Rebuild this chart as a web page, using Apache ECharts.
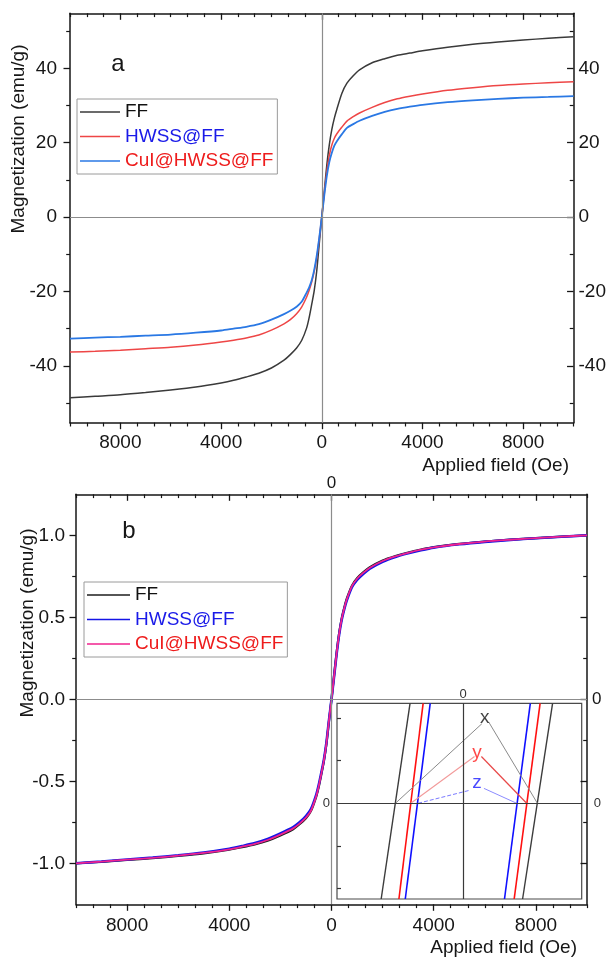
<!DOCTYPE html>
<html>
<head>
<meta charset="utf-8">
<script src="https://cdn.jsdelivr.net/npm/echarts@6/dist/echarts.min.js"></script>
<style>
  html, body { margin: 0; padding: 0; background: #fff; }
  #chart { width: 609px; height: 957px; }
</style>
</head>
<body>
<div id="chart"></div>
<script>
// Applied field (Oe), shared by every curve
const fieldOe = [-10000,-9000,-8000,-7000,-6000,-5000,-4000,-3500,-3000,-2500,-2000,-1500,-1250,-1000,-800,-600,-500,-400,-300,-200,-100,
  0,
  100,200,300,400,500,600,800,1000,1250,1500,2000,2500,3000,3500,4000,5000,6000,7000,8000,9000,10000];

// (a) magnetization, emu/g
const ffA = [-48.6,-48.2,-47.8,-47.2,-46.5,-45.7,-44.6,-43.9,-43.0,-42.0,-40.6,-38.5,-37.0,-35.2,-33.2,-29.8,-27.0,-23.5,-19.8,-14.5,-7.2,
  0,
  7.0,14.0,19.5,23.6,26.6,29.0,33.3,36.0,38.0,39.6,41.5,42.6,43.5,44.1,44.7,45.7,46.5,47.1,47.6,48.1,48.5];
const hwssA = [-36.3,-36.1,-35.8,-35.4,-35.0,-34.4,-33.6,-33.1,-32.5,-31.7,-30.4,-28.7,-27.6,-26.0,-24.2,-21.5,-19.7,-17.5,-14.6,-11.0,-5.8,
  0,
  6.3,12.2,16.6,19.4,21.2,22.4,24.2,25.8,27.0,28.0,29.5,30.8,31.8,32.5,33.1,34.1,34.8,35.4,35.8,36.1,36.4];
const cuiA = [-32.7,-32.4,-32.2,-31.9,-31.6,-31.1,-30.5,-30.0,-29.5,-28.8,-27.6,-26.1,-25.2,-24.1,-22.8,-20.3,-18.9,-17.0,-14.2,-10.4,-5.5,
  0,
  5.8,11.0,14.8,17.3,19.2,20.4,22.3,24.0,25.0,25.9,27.2,28.3,29.1,29.7,30.2,30.9,31.4,31.8,32.1,32.3,32.5];

// (b) normalized magnetization
const ffB = [-1.0,-0.991,-0.98,-0.969,-0.955,-0.939,-0.917,-0.902,-0.885,-0.862,-0.83,-0.792,-0.762,-0.725,-0.68,-0.595,-0.535,-0.46,-0.38,-0.275,-0.135,
  0,
  0.145,0.285,0.405,0.495,0.56,0.615,0.693,0.738,0.775,0.805,0.846,0.873,0.895,0.913,0.928,0.948,0.962,0.974,0.983,0.992,1.0];
const hwssB = [-1.0,-0.989,-0.977,-0.965,-0.951,-0.934,-0.911,-0.895,-0.877,-0.852,-0.818,-0.779,-0.75,-0.712,-0.668,-0.583,-0.522,-0.448,-0.37,-0.265,-0.128,
  0,
  0.137,0.275,0.395,0.485,0.55,0.603,0.683,0.728,0.766,0.797,0.839,0.868,0.89,0.909,0.925,0.945,0.96,0.972,0.982,0.991,1.0];
const cuiB = [-1.0,-0.99,-0.978,-0.967,-0.953,-0.937,-0.915,-0.899,-0.882,-0.858,-0.825,-0.787,-0.758,-0.722,-0.678,-0.592,-0.53,-0.455,-0.375,-0.27,-0.13,
  0,
  0.14,0.28,0.40,0.49,0.555,0.61,0.69,0.735,0.772,0.802,0.843,0.871,0.893,0.912,0.927,0.947,0.962,0.973,0.983,0.992,1.0];

// inset: branches near the origin (field in Oe, normalized M)
const insetMEnds = [-0.0225, 0.0235];
const blackDescField = [-66.9, -43.3];
const blackAscField = [48.7, 73.2];
const redDescField = [-52.4, -32.6];
const redAscField = [41.8, 63.0];
const blueDescField = [-47.2, -26.8];
const blueAscField = [33.9, 55.0];

// inset: leader lines from each coercive point to its letter
const leaderBlackField = [-55.2, 15.4, 21.0, 60.8];
const leaderBlackM = [0, 0.0187, 0.0191, 0];
const leaderRedField = [-42.7, 9.4, 15.0, 52.0];
const leaderRedM = [0, 0.0110, 0.0110, 0];
const leaderBlueField = [-36.7, 6.1, 17.1, 43.8];
const leaderBlueM = [0, 0.0031, 0.0035, 0];
const insetLetters = ['x', 'y', 'z'];
const insetLetterField = [17.7, 11.4, 11.4];
const insetLetterM = [0.0202, 0.0119, 0.0049];

// tick values
const fieldMajor = [-8000, -4000, 0, 4000, 8000];
const fieldMinor = [];
for (let k = -15; k <= 15; k++) if (k % 6 !== 0) fieldMinor.push(k * 4000 / 6);
const magMajorA = [-40, -20, 0, 20, 40];
const magMinorA = [-50, -30, -10, 10, 30, 50];
const magMajorB = [-1, -0.5, 0, 0.5, 1];
const magMinorB = [-0.75, -0.25, 0.25, 0.75];
const insetMinor = [-0.02, -0.01, 0.01, 0.02];

const FONT = 'Liberation Sans, Arial, sans-serif';
const INK = '#161616';

const xAxes = [], yAxes = [];

function addAxisPair(list, gridIndex, position, min, max, major, minor, o) {
  o = o || {};
  const majorIdx = list.length;
  list.push({
    type: 'value', gridIndex, position, min, max,
    axisLine: { show: o.line !== false, onZero: false, lineStyle: { color: INK, width: 1.5 } },
    axisTick: { show: major.length > 0, inside: !!o.inside, length: 6.5, customValues: major,
      lineStyle: { color: INK, width: 1.3 } },
    axisLabel: { show: !!o.labels, customValues: o.labels || [], margin: o.margin || 8,
      formatter: o.formatter, fontSize: o.fontSize || 19, color: o.labelColor || INK, fontFamily: FONT },
    splitLine: { show: false }
  });
  if (minor && minor.length) {
    list.push({
      type: 'value', gridIndex, position, min, max,
      axisLine: { show: false, onZero: false },
      axisTick: { show: true, inside: !!o.inside, length: o.minorLen || 3.8, customValues: minor,
        lineStyle: { color: o.minorColor || INK, width: 1.2 } },
      axisLabel: { show: false },
      splitLine: { show: false }
    });
  }
  return majorIdx;
}

const absLabel = v => String(Math.abs(v));

// panel (a)
const xa = addAxisPair(xAxes, 0, 'bottom', -10000, 10000, fieldMajor, fieldMinor,
  { labels: fieldMajor, formatter: absLabel, margin: 11 });
addAxisPair(xAxes, 0, 'top', -10000, 10000, fieldMajor, fieldMinor, { inside: true });
const ya = addAxisPair(yAxes, 0, 'left', -55.3, 54.8, magMajorA, magMinorA,
  { labels: magMajorA, margin: 13 });
addAxisPair(yAxes, 0, 'right', -55.3, 54.8, magMajorA, magMinorA,
  { inside: true, labels: magMajorA, margin: 5 });

// panel (b)
const xb = addAxisPair(xAxes, 1, 'bottom', -10000, 10000, fieldMajor, fieldMinor,
  { labels: fieldMajor, formatter: absLabel, margin: 12 });
addAxisPair(xAxes, 1, 'top', -10000, 10000, fieldMajor, fieldMinor,
  { inside: true, labels: [0], margin: 2, fontSize: 17 });
const yb = addAxisPair(yAxes, 1, 'left', -1.25, 1.25, magMajorB, magMinorB,
  { labels: magMajorB, margin: 11, formatter: v => v.toFixed(1) });
addAxisPair(yAxes, 1, 'right', -1.25, 1.25, magMajorB, magMinorB,
  { inside: true, labels: [0], margin: 5, fontSize: 17 });

// inset
const xi = addAxisPair(xAxes, 2, 'top', -103, 97, [], null,
  { line: false, labels: [0], margin: 2, fontSize: 13, labelColor: '#333' });
const yi = addAxisPair(yAxes, 2, 'left', insetMEnds[0], insetMEnds[1], [], insetMinor,
  { line: false, inside: true, labels: [0], margin: 7, fontSize: 13, labelColor: '#333', minorLen: 4, minorColor: '#333' });
addAxisPair(yAxes, 2, 'right', insetMEnds[0], insetMEnds[1], [], null,
  { line: false, labels: [0], margin: 12, fontSize: 13, labelColor: '#333' });

const pairs = (xs, ys) => xs.map((x, i) => [x, ys[i]]);

function curve(name, xIdx, yIdx, values, color, width, extra) {
  return Object.assign({
    type: 'line', name, xAxisIndex: xIdx, yAxisIndex: yIdx,
    data: pairs(fieldOe, values), symbol: 'none', smooth: 0.25,
    lineStyle: { color, width }, itemStyle: { color }, silent: true
  }, extra || {});
}

function zeroLines(color, width) {
  return {
    silent: true, symbol: 'none', animation: false,
    label: { show: false },
    lineStyle: { color, width, type: 'solid' },
    data: [{ xAxis: 0 }, { yAxis: 0 }]
  };
}

function segment(xIdx, yIdx, xs, ys, color, width, type) {
  return {
    type: 'line', xAxisIndex: xIdx, yAxisIndex: yIdx, data: pairs(xs, ys),
    symbol: 'none', silent: true, z: 4, lineStyle: { color, width, type: type || 'solid' }
  };
}

const letterColors = ['#111111', '#ff1a1a', '#1a1aff'];

const series = [
  curve('FF', xa, ya, ffA, '#3a3a3a', 1.5, { markLine: zeroLines('#8c8c8c', 1.2) }),
  curve('HWSS@FF', xa, ya, hwssA, '#ee4646', 1.5),
  curve('CuI@HWSS@FF', xa, ya, cuiA, '#2a78e4', 1.8),

  curve('FF (b)', xb, yb, ffB, '#1e1e1e', 2.2, { markLine: zeroLines('#8c8c8c', 1.2) }),
  curve('HWSS@FF (b)', xb, yb, hwssB, '#1414e6', 2.6),
  curve('CuI@HWSS@FF (b)', xb, yb, cuiB, '#f0228e', 1.8),

  Object.assign(segment(xi, yi, blackDescField, insetMEnds, '#3c3c3c', 1.4),
    { markLine: zeroLines('#3a3a3a', 1.2) }),
  segment(xi, yi, blackAscField, insetMEnds, '#3c3c3c', 1.4),
  segment(xi, yi, redDescField, insetMEnds, '#ff1010', 1.6),
  segment(xi, yi, redAscField, insetMEnds, '#ff1010', 1.6),
  segment(xi, yi, blueDescField, insetMEnds, '#1010ff', 1.6),
  segment(xi, yi, blueAscField, insetMEnds, '#1010ff', 1.6),

  segment(xi, yi, leaderBlackField.slice(0, 2), leaderBlackM.slice(0, 2), '#8a8a8a', 1),
  segment(xi, yi, leaderBlackField.slice(2), leaderBlackM.slice(2), '#8a8a8a', 1),
  segment(xi, yi, leaderRedField.slice(0, 2), leaderRedM.slice(0, 2), '#f29a9a', 1.1),
  segment(xi, yi, leaderRedField.slice(2), leaderRedM.slice(2), '#e84848', 1.2),
  segment(xi, yi, leaderBlueField.slice(0, 2), leaderBlueM.slice(0, 2), '#7a7aff', 1, 'dashed'),
  segment(xi, yi, leaderBlueField.slice(2), leaderBlueM.slice(2), '#8c8cff', 1),

  {
    type: 'scatter', xAxisIndex: xi, yAxisIndex: yi, symbol: 'circle', symbolSize: 2, silent: true, z: 5,
    itemStyle: { color: 'rgba(0,0,0,0)' },
    data: insetLetters.map((t, i) => ({
      value: [insetLetterField[i], insetLetterM[i]],
      label: { show: true, formatter: t, color: letterColors[i] }
    })),
    label: { show: true, position: 'inside', fontSize: 19, fontFamily: FONT }
  }
];

function legendFor(left, top, names, itemWidth, textGap) {
  const textColors = ['#111111', '#1a1ae8', '#ee1c1c'];
  return {
    orient: 'vertical', left, top,
    icon: 'rect',
    itemWidth, itemHeight: 1.6, itemGap: 4.5, itemTextGap: textGap,
    padding: [3, 4, 3, 3],
    borderColor: '#9a9a9a', borderWidth: 1, backgroundColor: '#fff',
    selectedMode: false,
    formatter: n => n.replace(' (b)', ''),
    textStyle: { fontSize: 19, fontFamily: FONT, lineHeight: 20 },
    data: names.map((n, i) => ({ name: n, textStyle: { color: textColors[i] } }))
  };
}

const option = {
  animation: false,
  backgroundColor: '#fff',
  grid: [
    { left: 70, top: 13.3, width: 508, height: 409.4 },
    { left: 76, top: 494.3, width: 511, height: 410 },
    { left: 337, top: 703.3, width: 244.7, height: 195.7, show: true,
      backgroundColor: '#fff', borderColor: '#4a4a4a', borderWidth: 1.2 }
  ],
  xAxis: xAxes,
  yAxis: yAxes,
  legend: [
    legendFor(77, 99, ['FF', 'HWSS@FF', 'CuI@HWSS@FF'], 40, 7),
    legendFor(84, 582, ['FF (b)', 'HWSS@FF (b)', 'CuI@HWSS@FF (b)'], 43, 5)
  ],
  graphic: [
    { type: 'text', x: 19, y: 139, rotation: Math.PI / 2,
      style: { text: 'Magnetization (emu/g)', fontSize: 19, fontFamily: FONT, fill: INK,
        textAlign: 'center', textVerticalAlign: 'middle' } },
    { type: 'text', x: 28, y: 623, rotation: Math.PI / 2,
      style: { text: 'Magnetization (emu/g)', fontSize: 19, fontFamily: FONT, fill: INK,
        textAlign: 'center', textVerticalAlign: 'middle' } },
    { type: 'text', x: 569, y: 466,
      style: { text: 'Applied field (Oe)', fontSize: 19, fontFamily: FONT, fill: INK,
        textAlign: 'right', textVerticalAlign: 'middle' } },
    { type: 'text', x: 577, y: 948,
      style: { text: 'Applied field (Oe)', fontSize: 19, fontFamily: FONT, fill: INK,
        textAlign: 'right', textVerticalAlign: 'middle' } },
    { type: 'text', x: 118, y: 64,
      style: { text: 'a', fontSize: 24, fontFamily: FONT, fill: INK,
        textAlign: 'center', textVerticalAlign: 'middle' } },
    { type: 'text', x: 129, y: 531,
      style: { text: 'b', fontSize: 24, fontFamily: FONT, fill: INK,
        textAlign: 'center', textVerticalAlign: 'middle' } }
  ],
  series
};

const chart = echarts.init(document.getElementById('chart'), null, { renderer: 'canvas' });
chart.setOption(option);
</script>
</body>
</html>
